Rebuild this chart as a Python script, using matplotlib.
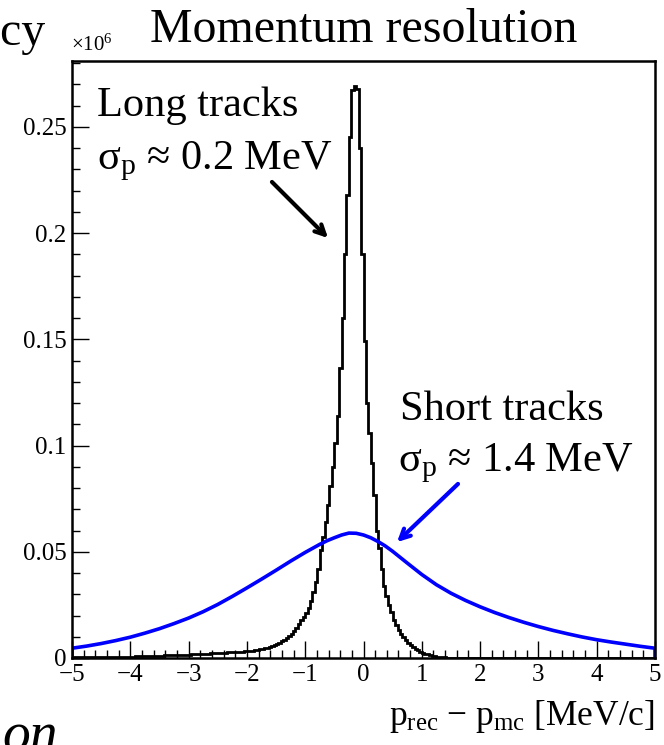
import matplotlib
matplotlib.use('Agg')
import matplotlib.pyplot as plt
from matplotlib.ticker import MultipleLocator, FuncFormatter
import numpy as np

plt.rcParams['font.family'] = ['Liberation Serif', 'DejaVu Serif']
plt.rcParams['mathtext.fontset'] = 'custom'
plt.rcParams['mathtext.rm'] = 'Liberation Serif'
plt.rcParams['mathtext.it'] = 'Liberation Serif:italic'
plt.rcParams['mathtext.bf'] = 'Liberation Serif:bold'

# ---------------- data (counts in units of 10^6) ----------------
x_min, x_max, n_bins = -5.0, 5.0, 240

long_counts = [
    0.0003, 0.0003, 0.0003, 0.0003, 0.0003, 0.0004, 0.0004, 0.0004, 0.0004, 0.0004, 0.0004, 0.0005,
    0.0005, 0.0005, 0.0005, 0.0005, 0.0005, 0.0006, 0.0006, 0.0006, 0.0006, 0.0006, 0.0007, 0.0007,
    0.0007, 0.0007, 0.0008, 0.0008, 0.0008, 0.0009, 0.0009, 0.0009, 0.0010, 0.0010, 0.0010, 0.0011,
    0.0011, 0.0011, 0.0012, 0.0012, 0.0013, 0.0013, 0.0014, 0.0014, 0.0015, 0.0015, 0.0015, 0.0016,
    0.0016, 0.0017, 0.0017, 0.0018, 0.0019, 0.0019, 0.0020, 0.0020, 0.0021, 0.0022, 0.0022, 0.0023,
    0.0023, 0.0024, 0.0025, 0.0025, 0.0026, 0.0027, 0.0027, 0.0028, 0.0029, 0.0030, 0.0030, 0.0031,
    0.0032, 0.0034, 0.0035, 0.0037, 0.0039, 0.0041, 0.0043, 0.0046, 0.0049, 0.0053, 0.0057, 0.0061,
    0.0066, 0.0072, 0.0078, 0.0085, 0.0093, 0.0102, 0.0113, 0.0126, 0.0142, 0.0160, 0.0178, 0.0195,
    0.0213, 0.0235, 0.0270, 0.0310, 0.0360, 0.0420, 0.0510, 0.0570, 0.0640, 0.0720, 0.0810, 0.0900,
    0.1010, 0.1137, 0.1366, 0.1600, 0.1900, 0.2180, 0.2450, 0.2675, 0.2690, 0.2680, 0.2400, 0.1900,
    0.1490, 0.1200, 0.1060, 0.0920, 0.0765, 0.0600, 0.0520, 0.0420, 0.0340, 0.0290, 0.0250, 0.0215,
    0.0180, 0.0155, 0.0133, 0.0115, 0.0098, 0.0084, 0.0071, 0.0060, 0.0051, 0.0043, 0.0036, 0.0030,
    0.0025, 0.0021, 0.0017, 0.0014, 0.0011, 0.0009, 0.0007, 0.0005, 0.0004, 0.0003, 0.0002, 0.00015,
    0.0001, 0.0001, 0.00005, 0.00005, 0.00005, 0.00003, 0.00003, 0.00002, 0.00002, 0.00001, 0.00001, 0.0,
    0.0, 0.0, 0.0, 0.0, 0.0, 0.0, 0.0, 0.0, 0.0, 0.0, 0.0, 0.0,
    0.0, 0.0, 0.0, 0.0, 0.0, 0.0, 0.0, 0.0, 0.0, 0.0, 0.0, 0.0,
    0.0, 0.0, 0.0, 0.0, 0.0, 0.0, 0.0, 0.0, 0.0, 0.0, 0.0, 0.0,
    0.0, 0.0, 0.0, 0.0, 0.0, 0.0, 0.0, 0.0, 0.0, 0.0, 0.0, 0.0,
    0.0, 0.0, 0.0, 0.0, 0.0, 0.0, 0.0, 0.0, 0.0, 0.0, 0.0, 0.0,
    0.0, 0.0, 0.0, 0.0, 0.0, 0.0, 0.0, 0.0, 0.0, 0.0, 0.0, 0.0,
]

short_x = [-5.0,
           -5.0, -4.75, -4.5, -4.25, -4.0, -3.75, -3.5, -3.25, -3.0, -2.75, -2.5, -2.25, -2.0,
           -1.75, -1.5, -1.25, -1.0, -0.75, -0.625, -0.5, -0.375, -0.25, -0.125, 0.0, 0.125,
           0.25, 0.375, 0.5, 0.75, 1.0, 1.25, 1.5,
           1.75, 2.0, 2.25, 2.5, 2.75, 3.0, 3.25, 3.5, 3.75, 4.0, 4.25, 4.5, 4.75, 5.0,
           5.0]
short_y = [0.0,
           0.0046, 0.0056, 0.0068, 0.0082, 0.0098, 0.0117, 0.0138, 0.0162, 0.0188, 0.0218, 0.0252, 0.0290, 0.0330,
           0.0371, 0.0413, 0.0456, 0.0497, 0.0535, 0.0552, 0.0566, 0.0579, 0.0588, 0.0587, 0.0579, 0.0566,
           0.0548, 0.0527, 0.0502, 0.0447, 0.0393, 0.0345, 0.0305,
           0.0271, 0.0241, 0.0214, 0.0190, 0.0168, 0.0148, 0.0130, 0.0114, 0.0099, 0.0086, 0.0075, 0.0065, 0.0055, 0.0046,
           0.0]

y_max = 0.281

# ---------------- figure ----------------
W, H = 664, 745
fig = plt.figure(figsize=(W / 100, H / 100), dpi=100)
fig.patch.set_facecolor('white')

def fx(px):
    return px / W

def fy(py):
    return 1 - py / H

ax_l, ax_r, ax_t, ax_b = 72, 655, 61, 658
ax = fig.add_axes([fx(ax_l), fy(ax_b), (ax_r - ax_l) / W, (ax_b - ax_t) / H])

edges = np.linspace(x_min, x_max, n_bins + 1)
ax.stairs(long_counts, edges, color='black', lw=2.0, baseline=0)
ax.plot(short_x, short_y, color='#0000ff', lw=2.6, solid_joinstyle='round')

ax.set_xlim(x_min, x_max)
ax.set_ylim(0, y_max)

ax.xaxis.set_major_locator(MultipleLocator(1))
ax.xaxis.set_minor_locator(MultipleLocator(0.2))
ax.yaxis.set_major_locator(MultipleLocator(0.05))
ax.yaxis.set_minor_locator(MultipleLocator(0.01))

def fmt(v, pos):
    s = '%g' % round(v, 4)
    return s.replace('-', '\u2212')

ax.xaxis.set_major_formatter(FuncFormatter(fmt))
ax.yaxis.set_major_formatter(FuncFormatter(fmt))

ax.tick_params(which='both', direction='in', top=False, right=False, colors='black')
ax.tick_params(which='major', length=12, width=1.0, labelsize=18, pad=4)
ax.tick_params(which='minor', length=6, width=1.0)
for sp in ax.spines.values():
    sp.set_linewidth(1.8)

# ---------------- texts ----------------
APPROX = '\u2248'
MINUS = '\u2212'
fig.text(fx(364), fy(42), 'Momentum resolution', ha='center', va='baseline', fontsize=34.5)
fig.text(fx(46), fy(45), 'Frequency', ha='right', va='baseline', fontsize=34.5)
fig.text(fx(71), fy(51), '\u00d710$^{6}$', ha='left', va='baseline', fontsize=15)

fig.text(fx(97), fy(116), 'Long tracks', ha='left', va='baseline', fontsize=30.5)
fig.text(fx(97), fy(169), r'$\mathrm{σ_{p}}$ ' + APPROX + ' 0.2 MeV',
         ha='left', va='baseline', fontsize=30.5)
fig.text(fx(400), fy(420), 'Short tracks', ha='left', va='baseline', fontsize=30.5)
fig.text(fx(398), fy(471), r'$\mathrm{σ_{p}}$ ' + APPROX + ' 1.4 MeV',
         ha='left', va='baseline', fontsize=30.5)

fig.text(fx(655), fy(725), r'$\mathrm{p_{rec}}$ ' + MINUS + r' $\mathrm{p_{mc}}$ [MeV/c]',
         ha='right', va='baseline', fontsize=25.5)
fig.text(fx(2), fy(752), 'on', ha='left', va='baseline', fontsize=40, style='italic')

# arrows
ax.annotate('', xy=(fx(330), fy(240)), xytext=(fx(270), fy(180)),
            xycoords='figure fraction', textcoords='figure fraction',
            arrowprops=dict(arrowstyle='->,head_length=0.7,head_width=0.35', color='black', lw=3))
ax.annotate('', xy=(fx(395), fy(544)), xytext=(fx(460), fy(482)),
            xycoords='figure fraction', textcoords='figure fraction',
            arrowprops=dict(arrowstyle='->,head_length=0.7,head_width=0.35', color='#0000ff', lw=3))

fig.savefig('out.png', dpi=100)
